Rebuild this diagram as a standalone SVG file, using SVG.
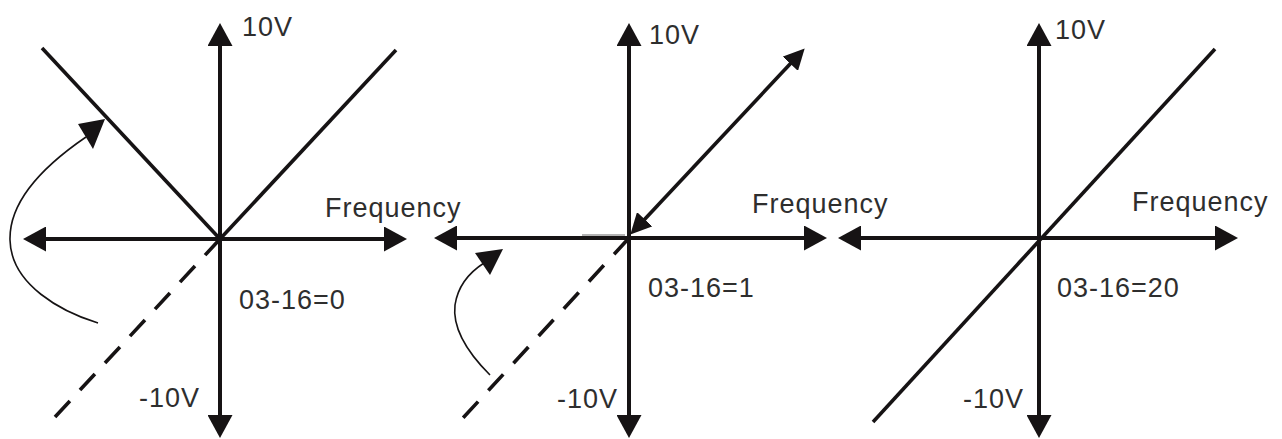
<svg xmlns="http://www.w3.org/2000/svg" width="1282" height="439" viewBox="0 0 1282 439">
<style>
.ax{stroke:#161314;stroke-width:4;fill:none;marker-start:url(#ah);marker-end:url(#ah)}
.ln{stroke:#161314;stroke-width:3.6;fill:none;stroke-linecap:butt}
.ds{stroke:#161314;stroke-width:3.6;fill:none;stroke-dasharray:22 14.8}
.cv{stroke:#161314;stroke-width:1.6;fill:none}
.hd{fill:#161314}
.t{font-family:"Liberation Sans",Arial,sans-serif;font-size:27px;fill:#2e2e2e;letter-spacing:1px}
</style>
<defs>
<marker id="ah" viewBox="0 0 23 25" refX="1" refY="12.5" markerWidth="23" markerHeight="25" markerUnits="userSpaceOnUse" orient="auto-start-reverse">
<path d="M0,0 L23,12.5 L0,25 z" fill="#161314"/>
</marker>
<marker id="ah2" viewBox="0 0 21 21" refX="1" refY="10.5" markerWidth="21" markerHeight="21" markerUnits="userSpaceOnUse" orient="auto-start-reverse">
<path d="M0,0 L21,10.5 L0,21 z" fill="#161314"/>
</marker>
</defs>

<g id="panel1">
<path class="ds" d="M220,239 L55,417"/>
<path class="ln" d="M220,239 L42,48"/>
<path class="ln" d="M220,239 L396,50"/>
<line class="ax" x1="220" y1="416" x2="220" y2="45"/>
<line class="ax" x1="385" y1="239" x2="45" y2="239"/>
<path class="cv" d="M98,323 C62,312 11,285 10,240 C9,200 45,165 86,137"/>
<polygon class="hd" points="105,119 78,124 93,149"/>
<text class="t" x="242" y="36">10V</text>
<text class="t" x="325" y="217">Frequency</text>
<text class="t" x="239" y="309">03-16=0</text>
<text class="t" x="139" y="407">-10V</text>
</g>

<g id="panel2">
<path class="ds" d="M629,238 L463,418" style="stroke-dasharray:22 15.1"/>
<line x1="582" y1="235" x2="625" y2="235" stroke="#9a9a9a" stroke-width="1.5"/>
<line class="ax" x1="629" y1="416" x2="629" y2="45"/>
<line class="ax" x1="805" y1="238" x2="456" y2="238"/>
<line x1="644" y1="220" x2="791" y2="63" stroke="#161314" stroke-width="3.6" marker-start="url(#ah2)" marker-end="url(#ah2)"/>
<path class="cv" d="M490,375 C470,355 452,330 455,305 C458,285 470,272 484,263"/>
<polygon class="hd" points="503,249 475,253 490,275"/>
<text class="t" x="649" y="44">10V</text>
<text class="t" x="752" y="213">Frequency</text>
<text class="t" x="648" y="297">03-16=1</text>
<text class="t" x="557" y="408">-10V</text>
</g>

<g id="panel3">
<path class="ln" d="M873,422 L1215,49"/>
<line class="ax" x1="1039" y1="416" x2="1039" y2="45"/>
<line class="ax" x1="1216" y1="238" x2="860" y2="238"/>
<text class="t" x="1055" y="39">10V</text>
<text class="t" x="1132" y="211">Frequency</text>
<text class="t" x="1057" y="297">03-16=20</text>
<text class="t" x="963" y="408">-10V</text>
</g>
</svg>
